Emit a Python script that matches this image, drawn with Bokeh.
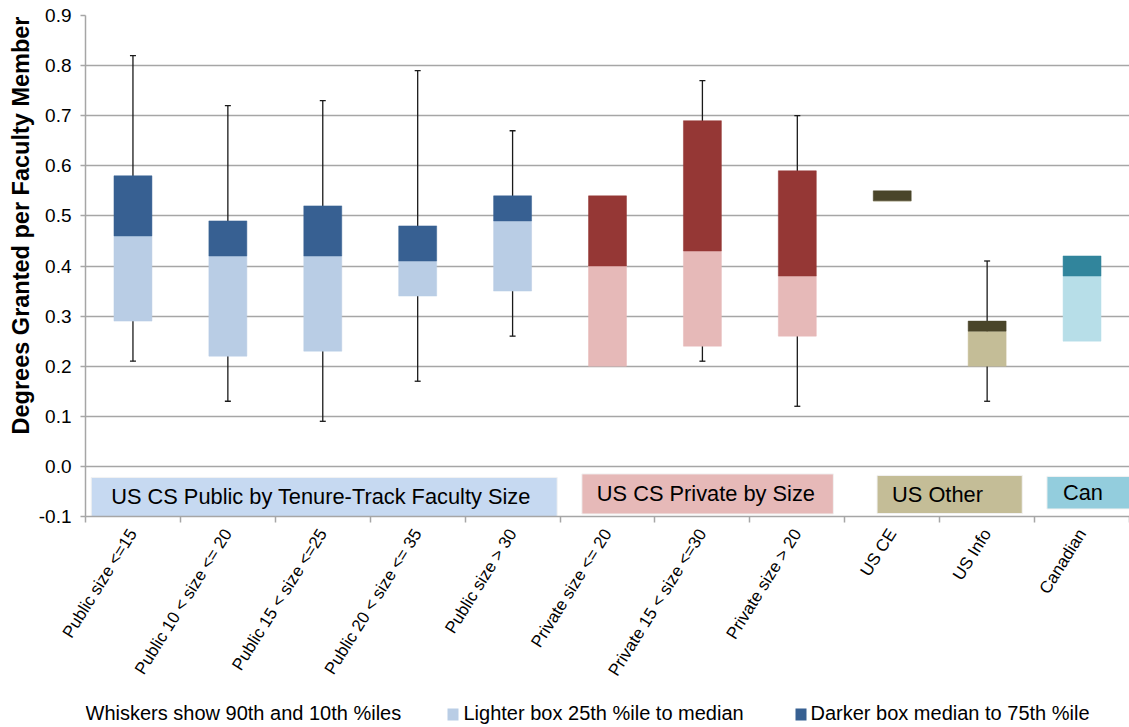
import math
from bokeh.plotting import figure
from bokeh.layouts import column
from bokeh.models import (Range1d, FixedTicker, PrintfTickFormatter, Title,
                          ColumnDataSource)
from bokeh.core.properties import value
from bokeh.embed import file_html
from bokeh.resources import INLINE

# ---------------- data ----------------
categories = [
    "Public size <=15", "Public 10 < size <= 20", "Public 15 < size <=25",
    "Public 20 < size <= 35", "Public size > 30", "Private size <= 20",
    "Private 15 < size <=30", "Private size > 20", "US CE", "US Info", "Canadian",
]
nan = float("nan")
p10 = [0.21, 0.13, 0.09, 0.17, 0.26, nan, 0.21, 0.12, nan, 0.13, nan]
q25 = [0.29, 0.22, 0.23, 0.34, 0.35, 0.20, 0.24, 0.26, 0.53, 0.20, 0.25]
median = [0.46, 0.42, 0.42, 0.41, 0.49, 0.40, 0.43, 0.38, 0.53, 0.27, 0.38]
q75 = [0.58, 0.49, 0.52, 0.48, 0.54, 0.54, 0.69, 0.59, 0.55, 0.29, 0.42]
p90 = [0.82, 0.72, 0.73, 0.79, 0.67, nan, 0.77, 0.70, nan, 0.41, nan]

light_colors = ["#B9CDE5"] * 5 + ["#E6B9B8"] * 3 + ["#C4BD97"] * 2 + ["#B7DEE8"]
dark_colors = ["#376092"] * 5 + ["#953735"] * 3 + ["#4A452A"] * 2 + ["#31859C"]

group_names = ["US CS Public by Tenure-Track Faculty Size", "US CS Private by Size",
               "US Other", "Can"]
group_colors = ["#C6D9F1", "#E6B9B8", "#C4BD97", "#93CDDD"]

y_ticks = [-0.1, 0.0, 0.1, 0.2, 0.3, 0.4, 0.5, 0.6, 0.7, 0.8, 0.9]
y_title = "Degrees Granted per Faculty Member"
legend_texts = ["Whiskers show 90th and 10th %iles",
                "Lighter box  25th %ile to median",
                "Darker box  median to 75th %ile"]
legend_swatches = [None, "#B9CDE5", "#376092"]

# ---------------- main figure ----------------
FONT = "Liberation Sans"
GRAY = "#A6A6A6"
n = len(categories)
xs = [i + 0.5 for i in range(n)]

src = ColumnDataSource(dict(x=xs, p10=p10, q25=q25, med=median, q75=q75, p90=p90,
                            light=light_colors, dark=dark_colors))

p = figure(width=1129, height=700,
           x_range=Range1d(0, n), y_range=Range1d(-0.1, 0.9),
           output_backend="svg", toolbar_location=None,
           min_border_left=85, min_border_right=0, min_border_top=15,
           min_border_bottom=184)
p.outline_line_color = None
p.xgrid.visible = False
p.ygrid.ticker = FixedTicker(ticks=y_ticks)
p.ygrid.grid_line_color = GRAY
p.ygrid.grid_line_width = 1.5

# group label boxes
gx0 = [0.06, 5.23, 8.34, 10.13]
gx1 = [4.97, 7.88, 9.87, 11.0]
gy0 = [-0.100, -0.095, -0.094, -0.085]
gy1 = [-0.022, -0.015, -0.018, -0.020]
gsrc = ColumnDataSource(dict(x0=gx0, x1=gx1, y0=gy0, y1=gy1, name=group_names,
                             c=group_colors, yc=[(a + b) / 2 for a, b in zip(gy0, gy1)],
                             off=[20, 15, 15, 16]))
p.quad(left="x0", right="x1", bottom="y0", top="y1", fill_color="c",
       line_color="#F2F2F2", line_width=1, source=gsrc)
p.text(x="x0", y="yc", text="name", x_offset="off", source=gsrc,
       text_baseline="middle", text_align="left", text_color="black",
       text_font=value(FONT), text_font_size="21.8px")

# whiskers
p.segment(x0="x", y0="p10", x1="x", y1="p90", source=src,
          line_color="#1A1A1A", line_width=1.3)
p.scatter(x="x", y="p10", marker="dash", size=6, line_color="#1A1A1A",
          line_width=1.3, source=src)
p.scatter(x="x", y="p90", marker="dash", size=6, line_color="#1A1A1A",
          line_width=1.3, source=src)

# boxes
p.vbar(x="x", width=0.4, bottom="q25", top="med", fill_color="light",
       line_color="light", line_width=0.5, source=src)
p.vbar(x="x", width=0.4, bottom="med", top="q75", fill_color="dark",
       line_color="dark", line_width=0.5, source=src)

# axes
xa = p.xaxis[0]
xa.ticker = FixedTicker(ticks=xs, minor_ticks=list(range(n + 1)))
xa.major_label_overrides = {x: c for x, c in zip(xs, categories)}
xa.major_label_orientation = math.radians(58)
xa.major_tick_line_color = None
xa.major_tick_out = 0
xa.major_tick_in = 0
xa.minor_tick_line_color = GRAY
xa.minor_tick_line_width = 1.5
xa.minor_tick_out = 6
xa.minor_tick_in = 0
xa.axis_line_color = GRAY
xa.axis_line_width = 1.5
xa.major_label_text_font = FONT
xa.major_label_text_font_size = "17px"
xa.major_label_text_color = "black"
xa.major_label_standoff = 8

ya = p.yaxis[0]
ya.ticker = FixedTicker(ticks=y_ticks)
ya.formatter = PrintfTickFormatter(format="%.1f")
ya.axis_line_color = GRAY
ya.axis_line_width = 1.5
ya.major_tick_line_color = GRAY
ya.major_tick_line_width = 1.5
ya.major_tick_out = 5
ya.major_tick_in = 0
ya.minor_tick_line_color = None
ya.major_label_text_font = FONT
ya.major_label_text_font_size = "19px"
ya.major_label_text_color = "black"
ya.major_label_standoff = 9

# y-axis title as a side title, anchored near the top like the reference
p.add_layout(Title(text=y_title, align="right", offset=1, standoff=4,
                   text_font=FONT, text_font_size="23.5px", text_font_style="bold",
                   text_color="black"), "left")

# ---------------- bottom legend strip ----------------
leg = figure(width=1129, height=27, x_range=Range1d(85, 1129), y_range=Range1d(0, 27),
             output_backend="svg", toolbar_location=None,
             min_border_left=85, min_border_right=0, min_border_top=0, min_border_bottom=0)
leg.axis.visible = False
leg.grid.visible = False
leg.outline_line_color = None
text_x = [85, 463, 810]
swatch_x = [nan, 452.5, 800.5]
lsrc = ColumnDataSource(dict(tx=text_x, ty=[15, 15, 15], text=legend_texts,
                             sx=swatch_x, sy=[13, 13, 13],
                             sc=[c if c else "white" for c in legend_swatches]))
leg.rect(x="sx", y="sy", width=11, height=12, fill_color="sc", line_color=None,
         source=lsrc)
leg.text(x="tx", y="ty", text="text", source=lsrc, text_baseline="middle",
         text_align="left", text_color="black", text_font=value(FONT),
         text_font_size="20px")

open("out.html", "w").write(file_html(column(p, leg), INLINE))
